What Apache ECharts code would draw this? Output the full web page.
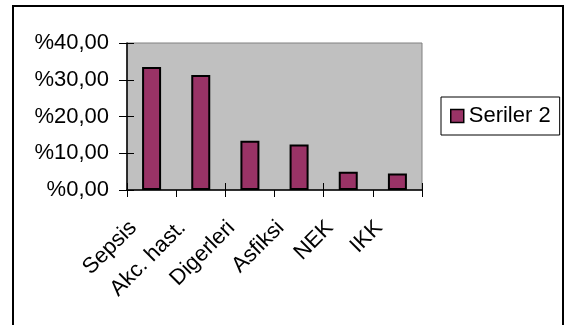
<!DOCTYPE html>
<html>
<head>
<meta charset="utf-8">
<script src="https://cdn.jsdelivr.net/npm/echarts@6/dist/echarts.min.js"></script>
<style>
  html, body { margin: 0; padding: 0; background: #ffffff; }
  #chart { width: 565px; height: 325px; }
</style>
</head>
<body>
<div id="chart"></div>
<script>
// Death causes and their share (%)
const categories = ['Sepsis', 'Akc. hast.', 'Digerleri', 'Asfiksi', 'NEK', 'IKK'];
const seriesName = 'Seriler 2';
const values = [33.5, 31.3, 13.4, 12.4, 5.0, 4.5];
const yTicks = [0, 10, 20, 30, 40];

const FONT = '"Liberation Sans", Arial, sans-serif';
const BAR = '#993366';

function pct(v) {
  return '%' + v.toFixed(2).replace('.', ',');
}

const chart = echarts.init(document.getElementById('chart'), null, { renderer: 'canvas' });

const grid = { left: 127, top: 43, right: 143, bottom: 135, containLabel: false,
  show: true, backgroundColor: '#c0c0c0', borderColor: '#808080', borderWidth: 1 };

chart.setOption({
  animation: false,
  backgroundColor: '#ffffff',
  textStyle: { fontFamily: FONT },
  grid: grid,
  legend: {
    data: [seriesName],
    orient: 'vertical',
    left: 441,
    top: 97,
    padding: [8, 9, 8, 9],
    itemWidth: 13,
    itemHeight: 13,
    itemGap: 0,
    backgroundColor: '#ffffff',
    borderColor: '#000000',
    borderWidth: 1,
    borderRadius: 0,
    icon: 'rect',
    textStyle: { fontFamily: FONT, fontSize: 22, color: '#000000', padding: [0, 0, 0, 0], lineHeight: 22 },
    itemStyle: { borderColor: '#000000', borderWidth: 1.5 }
  },
  xAxis: [
    {
      type: 'category',
      data: categories,
      boundaryGap: true,
      axisLine: { show: true, lineStyle: { color: '#000000', width: 1.5 } },
      axisTick: { show: true, inside: false, length: 7, lineStyle: { color: '#000000', width: 1 } },
      axisLabel: {
        rotate: 45,
        interval: 0,
        margin: 16,
        padding: [0, 26, 0, 0],
        fontFamily: FONT,
        fontSize: 22,
        color: '#000000'
      },
      splitLine: { show: false }
    },
    {
      // inner half of the crossing tick marks
      type: 'category',
      data: categories,
      position: 'bottom',
      boundaryGap: true,
      axisLine: { show: false },
      axisTick: { show: true, inside: true, length: 7, lineStyle: { color: '#000000', width: 1 } },
      axisLabel: { show: false },
      splitLine: { show: false }
    }
  ],
  yAxis: [
    {
      type: 'value',
      min: yTicks[0],
      max: yTicks[yTicks.length - 1],
      interval: 10,
      axisLine: { show: true, lineStyle: { color: '#000000', width: 1.5 } },
      axisTick: { show: true, inside: false, length: 8, lineStyle: { color: '#000000', width: 1 } },
      axisLabel: {
        margin: 18,
        fontFamily: FONT,
        fontSize: 22,
        color: '#000000',
        formatter: pct
      },
      splitLine: { show: false }
    },
    {
      type: 'value',
      position: 'left',
      min: yTicks[0],
      max: yTicks[yTicks.length - 1],
      interval: 10,
      axisLine: { show: false },
      axisTick: { show: true, inside: true, length: 7, lineStyle: { color: '#000000', width: 1 } },
      axisLabel: { show: false },
      splitLine: { show: false }
    }
  ],
  series: [
    {
      name: seriesName,
      type: 'bar',
      data: values,
      barWidth: 19,
      itemStyle: { color: BAR, borderColor: '#000000', borderWidth: 2 }
    }
  ],
  graphic: [
    {
      // chart-area frame
      type: 'rect',
      shape: { x: 13, y: 6, width: 550, height: 340 },
      style: { fill: 'none', stroke: '#000000', lineWidth: 2 },
      silent: true,
      z: 100
    }
  ]
});
</script>
</body>
</html>
